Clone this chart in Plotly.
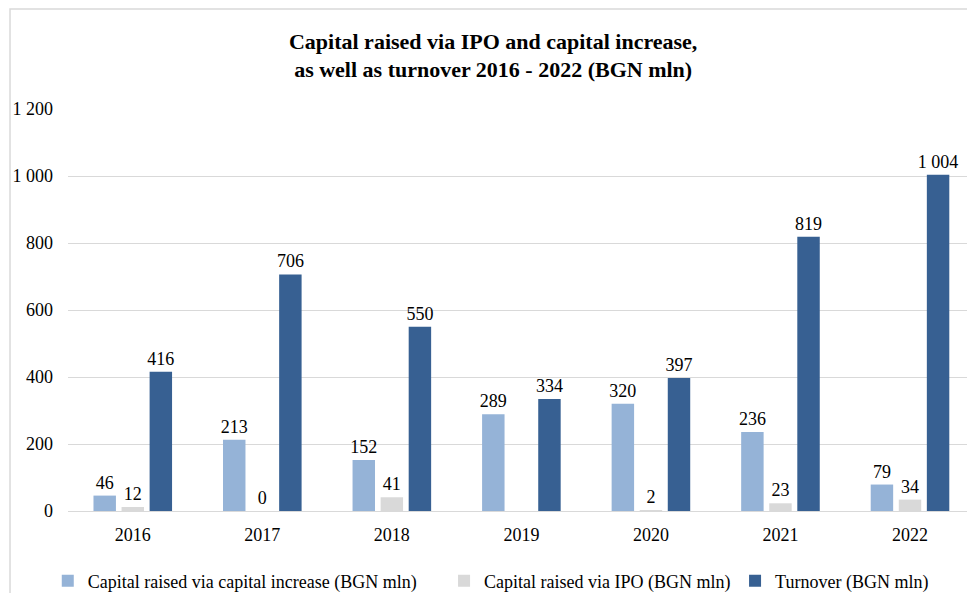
import plotly.graph_objects as go

years = ["2016", "2017", "2018", "2019", "2020", "2021", "2022"]
capital_increase = [46, 213, 152, 289, 320, 236, 79]
ipo = [12, 0, 41, None, 2, 23, 34]
turnover = [416, 706, 550, 334, 397, 819, 1004]

series_names = [
    "Capital raised via capital increase (BGN mln)",
    "Capital raised via IPO (BGN mln)",
    "Turnover (BGN mln)",
]
colors = ["#95B3D7", "#D9D9D9", "#376092"]
legend_ids = ["legend", "legend2", "legend3"]
legend_x = [-0.0225, 0.4183, 0.742]
y_ticks = [0, 200, 400, 600, 800, 1000, 1200]

FONT = "'Times New Roman', 'Liberation Serif', 'DejaVu Serif', serif"


def fmt(v):
    if v is None:
        return ""
    return f"{v:,}".replace(",", " ")


fig = go.Figure()
for name, vals, col, lg in zip(series_names, [capital_increase, ipo, turnover], colors, legend_ids):
    fig.add_trace(go.Bar(
        x=years, y=vals, name=name, legend=lg,
        marker=dict(color=col, line=dict(width=0)),
        text=[fmt(v) for v in vals],
        textposition="outside",
        constraintext="none",
        textfont=dict(family=FONT, size=18, color="#000000"),
        cliponaxis=False,
    ))

leg_common = dict(
    orientation="h", xanchor="left", y=-0.128, yanchor="top",
    font=dict(family=FONT, size=18, color="#000000"),
    itemwidth=30, bgcolor="rgba(0,0,0,0)",
)
layout_legends = {lg: dict(leg_common, x=x) for lg, x in zip(legend_ids, legend_x)}

fig.update_layout(
    width=967, height=593,
    margin=dict(l=68, r=0, t=109, b=82, autoexpand=False),
    paper_bgcolor="white", plot_bgcolor="white",
    font=dict(family=FONT, size=18, color="#000000"),
    title=dict(
        text="<b>Capital raised via IPO and capital increase,<br>as well as turnover 2016 - 2022 (BGN mln)</b>",
        x=0.51, xanchor="center", xref="container",
        y=0.918, yanchor="top", yref="container",
        font=dict(family=FONT, size=22, color="#000000"),
    ),
    barmode="group",
    bargap=0.35,
    bargroupgap=0.2,
    showlegend=True,
    **layout_legends,
)

fig.update_xaxes(
    range=[-0.5, 6.44], automargin=False,
    showgrid=False, showline=True, linecolor="#D9D9D9", linewidth=1,
    ticks="", ticklabelstandoff=7,
    tickfont=dict(family=FONT, size=18, color="#000000"),
)
fig.update_yaxes(
    range=[0, 1200], tickvals=y_ticks, ticktext=[fmt(v) for v in y_ticks],
    automargin=False,
    showgrid=True, gridcolor="#D9D9D9", gridwidth=1,
    zeroline=False, showline=False, ticks="", ticklabelstandoff=14,
    tickfont=dict(family=FONT, size=18, color="#000000"),
)

# outer chart border
fig.add_shape(type="rect", xref="paper", yref="paper",
              x0=-0.0645, y0=-0.3, x1=1.2, y1=1.249,
              line=dict(color="#D9D9D9", width=1.5), fillcolor="rgba(0,0,0,0)",
              layer="below")

fig.write_html("out.html", config={"displayModeBar": False},
               post_script="document.body.style.margin='0';")
